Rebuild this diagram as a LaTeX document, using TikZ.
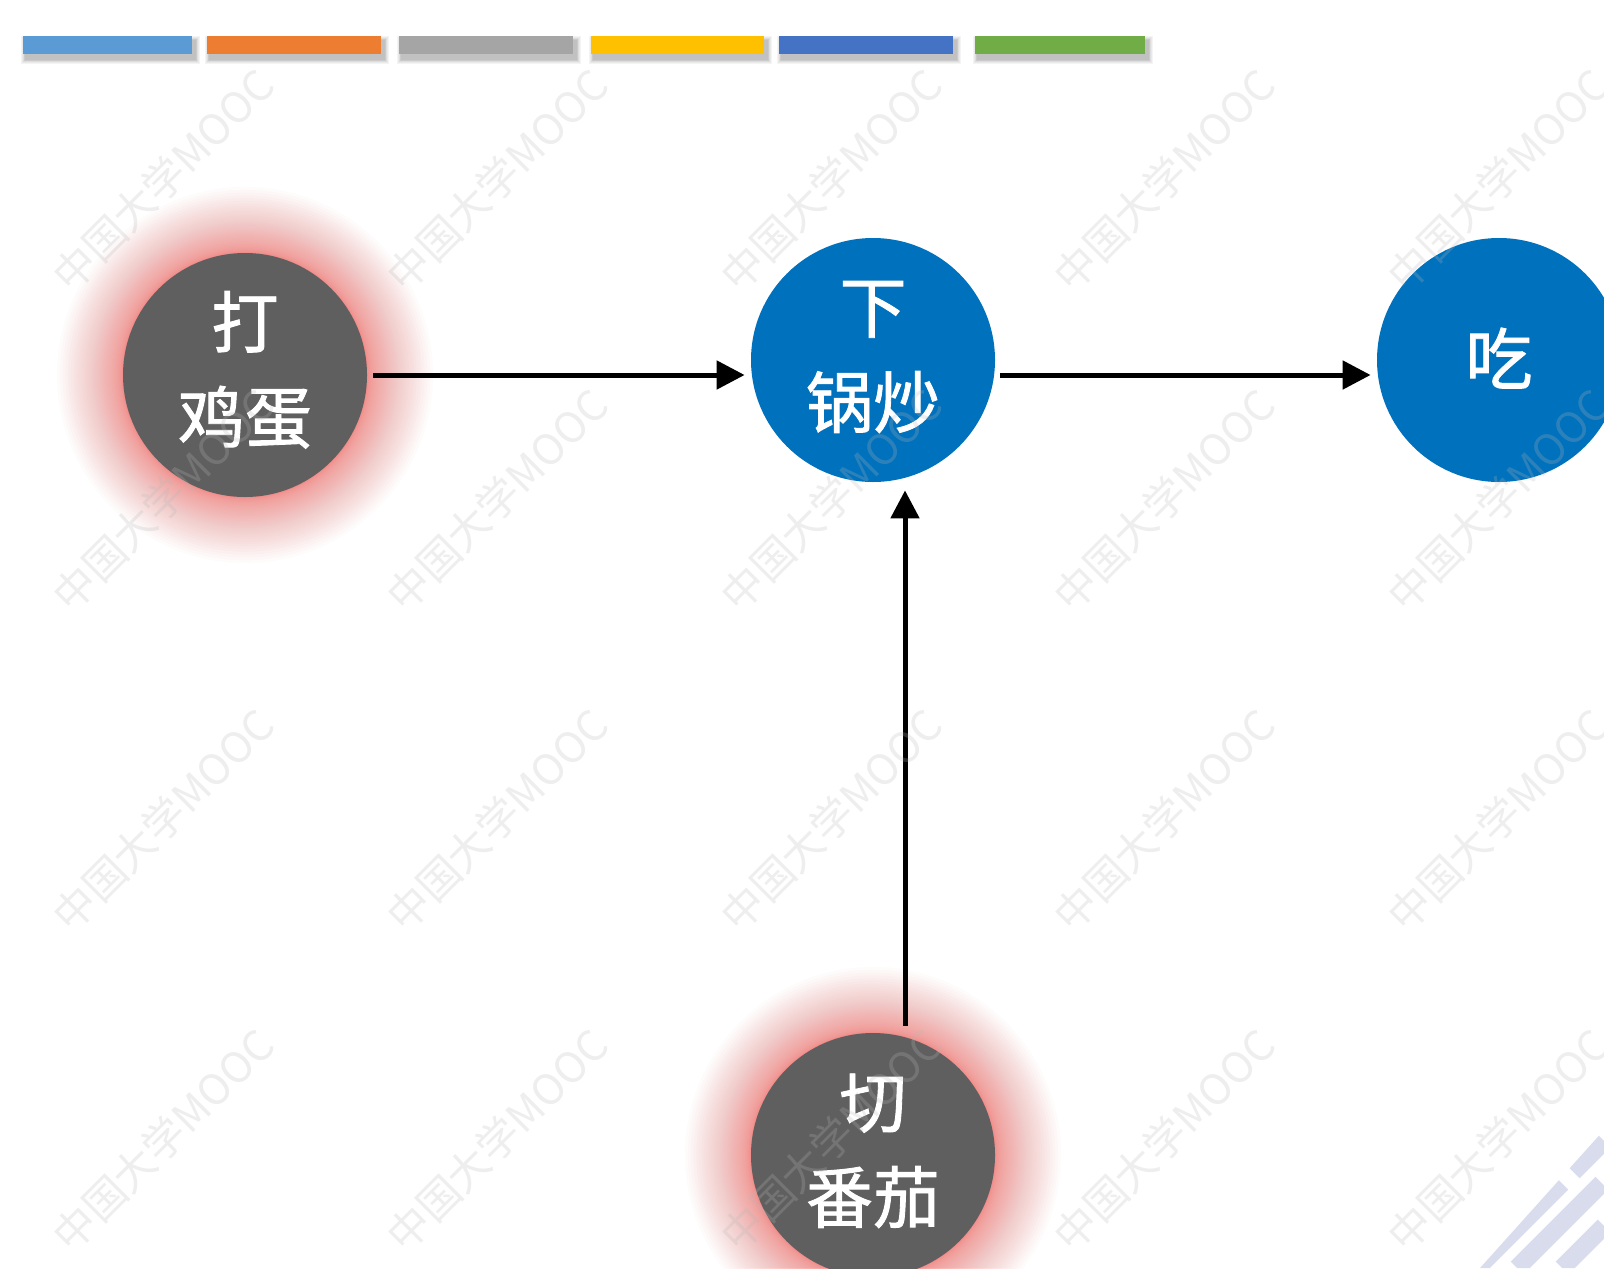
\documentclass[tikz,border=0pt]{standalone}
\usepackage{fontspec}
\newfontfamily\cjk{Noto Sans CJK SC}
\newfontfamily\cjkm[FakeBold=1.3]{Noto Sans CJK SC}
\usetikzlibrary{arrows.meta,calc}
\definecolor{cgray}{HTML}{5F5F5F}
\definecolor{cblue}{HTML}{0071BC}
\definecolor{glowred}{HTML}{F0625C}
\definecolor{barA}{HTML}{5B9BD5}
\definecolor{barB}{HTML}{ED7D31}
\definecolor{barC}{HTML}{A5A5A5}
\definecolor{barD}{HTML}{FFC000}
\definecolor{barE}{HTML}{4472C4}
\definecolor{barF}{HTML}{70AD47}
\definecolor{wmgray}{HTML}{B8B8B8}
\definecolor{logocol}{HTML}{D9DCEC}
\newcommand\mytwoline[2]{\makebox[0pt]{\raisebox{13.8pt}[0pt][0pt]{#1}}\makebox[0pt]{\raisebox{-33.7pt}[0pt][0pt]{#2}}}
\newcommand\myoneline[1]{\makebox[0pt]{\raisebox{-12pt}[0pt][0pt]{#1}}}
\begin{document}
\begin{tikzpicture}[x=0.5pt,y=-0.5pt,
  proc/.style={circle, minimum size=122pt, inner sep=0pt, text=white,
    font=\cjkm\fontsize{33.5}{50}\selectfont},
  grayproc/.style={proc, fill=cgray},
  blueproc/.style={proc, fill=cblue},
  flow/.style={line width=2.5pt, -{Triangle[length=14pt,width=14pt]}},
  wm/.style={font=\cjk\fontsize{21}{21}\selectfont, text=wmgray, opacity=0.24,
    rotate=45, inner sep=0pt}
]
\useasboundingbox (0,0) rectangle (1604,1268);
\clip (0,0) rectangle (1604,1268);
\fill[white] (0,0) rectangle (1604,1268);

% colour bars with soft shadows
\foreach \a/\b/\c in {23/192/barA, 207/381/barB, 399/573/barC, 591/764/barD, 779/953/barE, 975/1145/barF}{
  \foreach \k in {1,...,6}{
    \fill[black, opacity=0.045] (\a+3-\k*0.8, 41-\k*0.8) rectangle (\b+3+\k*0.8, 59+\k*0.8);
  }
  \fill[\c] (\a,36) rectangle (\b,54);
}

% glows
\foreach \cx/\cy in {245/375, 873/1155}{
  \foreach \k in {1,...,45}{
    \fill[glowred, opacity=0.024] (\cx,\cy) circle[radius={122+66*(\k/45)*(\k/45)}];
  }
}

% process circles
\node[grayproc] (dan) at (245,375) {\mytwoline{打}{鸡蛋}};
\node[blueproc] (chao) at (873,360) {\mytwoline{下}{锅炒}};
\node[blueproc] (chi) at (1499,360) {\myoneline{吃}};
\node[grayproc] (qie) at (873,1155) {\mytwoline{切}{番茄}};

% connectors
\draw[flow, shorten <=3pt, shorten >=3pt] (dan.east) -- (dan.east -| chao.west);
\draw[flow, shorten <=2.5pt, shorten >=3pt] (chao.east |- dan.east) -- (chi.west |- dan.east);
\draw[flow, shorten <=3.5pt, shorten >=4pt] ([xshift=16pt]qie.north) -- ([xshift=16pt]chao.south);

% logo fragment bottom right
\begin{scope}
  \clip (1480,1268) -- (1604,1130) -- (1604,1268) -- cycle;
  \foreach \c in {2745, 2785, 2830}{
    \draw[logocol, line width=9pt, dash pattern=on 60pt off 8pt on 30pt off 10pt] (\c-1268,1268) -- (1604,\c-1604);
  }
\end{scope}

% watermarks
\foreach \x [count=\i] in {163,497,831,1164,1498}{
  \foreach \y [count=\j] in {180,500,820,1140}{
    \node[wm] (wm\i-\j) at (\x,\y) {中国大学MOOC};
  }
}
\end{tikzpicture}
\end{document}
